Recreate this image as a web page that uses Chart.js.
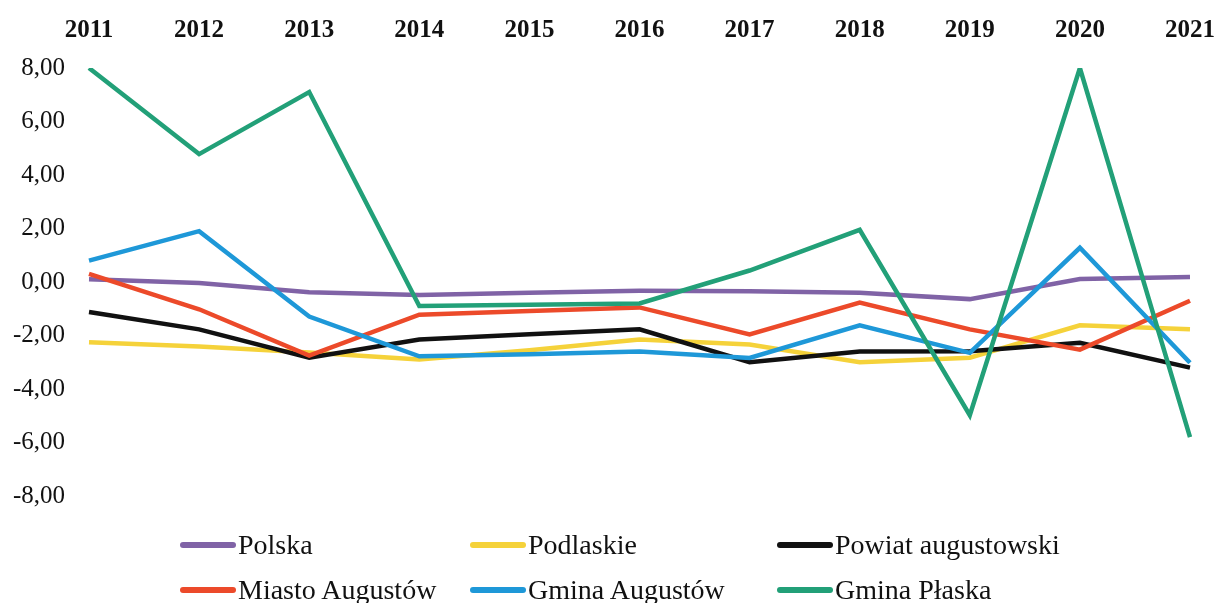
<!DOCTYPE html>
<html>
<head>
<meta charset="utf-8">
<script src="https://cdn.jsdelivr.net/npm/chart.js@4"></script>
<style>
  body { margin: 0; background: #fff; }
  #wrap { position: relative; width: 1215px; height: 603px; }
  #legend { position: absolute; left: 0; top: 0; width: 1215px; height: 603px; pointer-events: none;
            font-family: "Liberation Serif", "Times New Roman", serif; font-size: 28px; color: #111; }
  .item { position: absolute; display: flex; align-items: center; }
  .sw { width: 56px; height: 6px; border-radius: 3px; margin-right: 2px; }
</style>
</head>
<body>
<div id="wrap">
  <canvas id="myChart" width="1215" height="520"></canvas>
  <div id="legend"></div>
</div>
<script>
var years = ['2011','2012','2013','2014','2015','2016','2017','2018','2019','2020','2021']

var polska    = [0.10, -0.04, -0.38, -0.49, -0.40, -0.33, -0.35, -0.40, -0.64, 0.11, 0.19]
var podlaskie = [-2.25, -2.41, -2.64, -2.90, -2.55, -2.15, -2.34, -3.00, -2.83, -1.62, -1.77]
var powiat    = [-1.12, -1.77, -2.83, -2.15, -1.95, -1.77, -3.00, -2.60, -2.59, -2.27, -3.20]
var miasto    = [0.30, -1.02, -2.75, -1.22, -1.08, -0.95, -1.96, -0.77, -1.77, -2.53, -0.70]
var gminaAug  = [0.80, 1.90, -1.29, -2.78, -2.70, -2.60, -2.84, -1.62, -2.65, 1.28, -3.02]
var plaska    = [8.00, 4.78, 7.10, -0.90, -0.85, -0.80, 0.43, 1.95, -4.98, 8.00, -5.80]

var names  = ['Polska','Podlaskie','Powiat augustowski','Miasto Augustów','Gmina Augustów','Gmina Płaska']
var colors = ['#8063a6','#f5d23a','#111111','#ec4a2a','#1e98d8','#22a078']
var series = [polska, podlaskie, powiat, miasto, gminaAug, plaska]

var datasets = []
for (var i = 0; i < series.length; i++) {
  datasets.push({
    label: names[i],
    data: series[i],
    borderColor: colors[i],
    backgroundColor: colors[i],
    borderWidth: 4.5,
    pointRadius: 0,
    tension: 0,
    fill: false,
    order: series.length - i   // last series on top, like the original
  })
}

// drop the automatic label padding so the plot area is set by layout.padding only
function noAutoPad(s) {
  s.paddingLeft = 0; s.paddingRight = 0; s.paddingTop = 0; s.paddingBottom = 0
}

var ctx = document.getElementById('myChart').getContext('2d')
var chart = new Chart(ctx, {
  type: 'line',
  data: { labels: years, datasets: datasets },
  options: {
    responsive: false,
    animation: false,
    layout: { padding: { left: 9, right: 25, top: 0, bottom: 24 } },
    plugins: { legend: { display: false }, tooltip: { enabled: false } },
    scales: {
      x: {
        position: 'top',
        offset: false,
        grid: { display: false, drawTicks: false },
        border: { display: false },
        ticks: {
          padding: 22,
          maxRotation: 0,
          color: '#111',
          font: { family: '"Liberation Serif", serif', size: 25, weight: 'bold' }
        },
        afterFit: function (s) { s.height = 68; noAutoPad(s) }
      },
      y: {
        min: -8, max: 8,
        grid: { display: false, drawTicks: false },
        border: { display: false },
        ticks: {
          stepSize: 2,
          padding: 24,
          color: '#111',
          font: { family: '"Liberation Serif", serif', size: 25 },
          callback: function (v) { return v.toFixed(2).replace('.', ',') }
        },
        afterFit: function (s) { s.width = 80; noAutoPad(s) }
      }
    }
  }
})

// legend in 3 columns x 2 rows, as in the original
var legendCols = [180, 470, 777]
var legendRows = [545, 590]
var lg = document.getElementById('legend')
for (var j = 0; j < names.length; j++) {
  var el = document.createElement('div')
  el.className = 'item'
  el.style.left = legendCols[j % 3] + 'px'
  el.style.top = (legendRows[Math.floor(j / 3)] - 18) + 'px'
  el.style.height = '36px'
  el.innerHTML = '<span class="sw" style="background:' + colors[j] + '"></span><span>' + names[j] + '</span>'
  lg.appendChild(el)
}
</script>
</body>
</html>
